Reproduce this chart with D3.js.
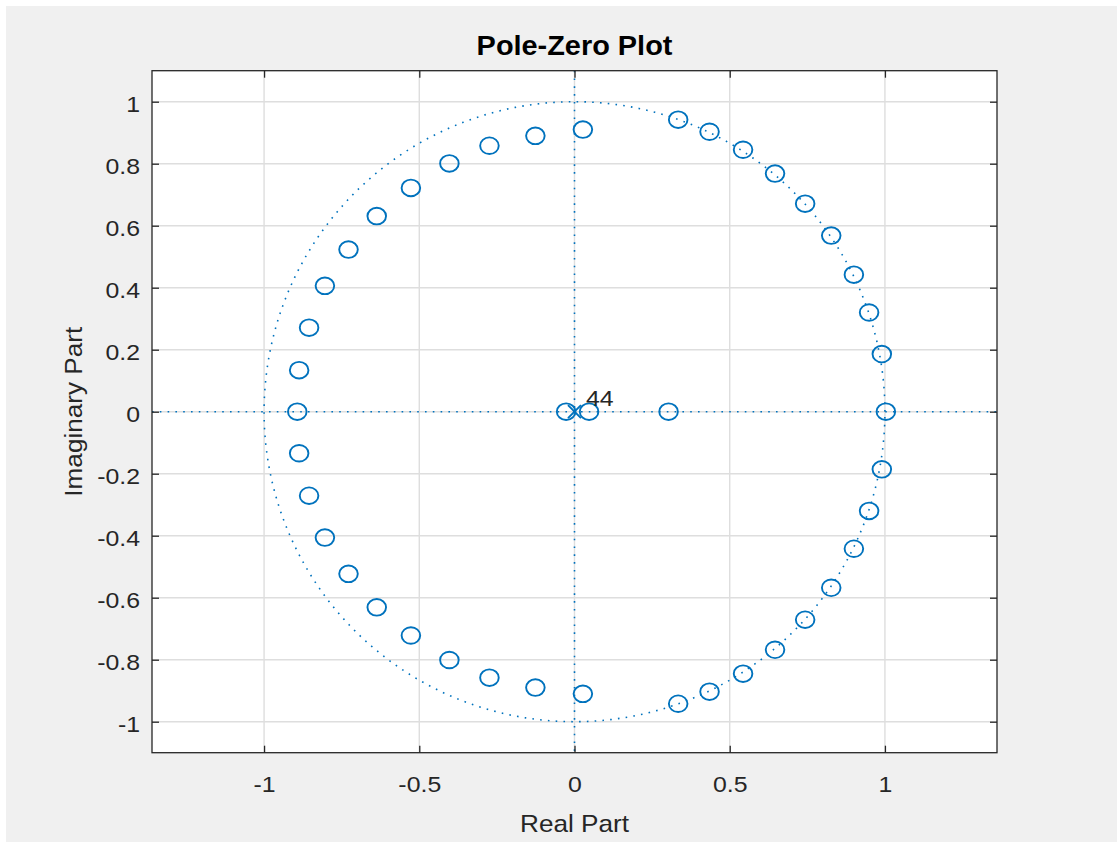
<!DOCTYPE html>
<html><head><meta charset="utf-8">
<script src="https://cdn.jsdelivr.net/npm/d3@7"></script>
<style>body{margin:0;background:#fff} svg{display:block}</style>
</head><body><svg id="c" width="1117" height="842"></svg>
<script>
// ---- data ----
const zerosRe = [
  0.027, -0.126, -0.274, -0.403, -0.527, -0.637, -0.728, -0.804, -0.855, -0.887,
  0.334, 0.435, 0.543, 0.646, 0.743, 0.827, 0.900, 0.949, 0.990,
  0.027, -0.126, -0.274, -0.403, -0.527, -0.637, -0.728, -0.804, -0.855, -0.887,
  0.334, 0.435, 0.543, 0.646, 0.743, 0.827, 0.900, 0.949, 0.990,
  -0.893, -0.027, 0.047, 0.303, 1.003
];
const zerosIm = [
  0.910, 0.890, 0.858, 0.801, 0.722, 0.631, 0.523, 0.406, 0.271, 0.134,
  0.942, 0.903, 0.845, 0.768, 0.671, 0.568, 0.442, 0.320, 0.186,
  -0.910, -0.890, -0.858, -0.801, -0.722, -0.631, -0.523, -0.406, -0.271, -0.134,
  -0.942, -0.903, -0.845, -0.768, -0.671, -0.568, -0.442, -0.320, -0.186,
  0, 0, 0, 0, 0
];
const polesRe = [0];
const polesIm = [0];
const poleLabels = ["44"];
const xTickValues = [-1, -0.5, 0, 0.5, 1];
const xTickLabels = ["-1", "-0.5", "0", "0.5", "1"];
const yTickValues = [-1, -0.8, -0.6, -0.4, -0.2, 0, 0.2, 0.4, 0.6, 0.8, 1];
const yTickLabels = ["-1", "-0.8", "-0.6", "-0.4", "-0.2", "0", "0.2", "0.4", "0.6", "0.8", "1"];
const xDomain = [-1.361, 1.361];
const yDomain = [-1.1, 1.1];
const titleText = "Pole-Zero Plot";
const xLabelText = "Real Part";
const yLabelText = "Imaginary Part";

// ---- layout ----
const W = 1117, H = 842;
const L = 152, R = 997, T = 70.7, B = 752.7;
const blue = "#0072BD", axisCol = "#262626";
const FONT = "'Liberation Sans', Arial, Helvetica, sans-serif";
const SX = 1.13;

const svg = d3.select("#c");
svg.append("rect").attr("x", 6).attr("y", 6).attr("width", W - 6).attr("height", H - 6).attr("fill", "#f0f0f0");
svg.append("rect").attr("x", L).attr("y", T).attr("width", R - L).attr("height", B - T).attr("fill", "#fff");

const x = d3.scaleLinear().domain(xDomain).range([L, R]);
const y = d3.scaleLinear().domain(yDomain).range([B, T]);

svg.append("defs").append("clipPath").attr("id", "clip")
  .append("rect").attr("x", L).attr("y", T).attr("width", R - L).attr("height", B - T);

// grid
const grid = svg.append("g").attr("stroke", "#dedede").attr("stroke-width", 1.4);
grid.selectAll("line.vx").data(xTickValues).join("line")
  .attr("x1", d => x(d)).attr("x2", d => x(d)).attr("y1", T).attr("y2", B);
grid.selectAll("line.hy").data(yTickValues).join("line")
  .attr("y1", d => y(d)).attr("y2", d => y(d)).attr("x1", L).attr("x2", R);

const plot = svg.append("g").attr("clip-path", "url(#clip)");
const dots = { fill: "none", stroke: blue, "stroke-width": 1.6, "stroke-dasharray": "1.6 6.2" };
function sty(sel, o) { for (const k in o) sel.attr(k, o[k]); return sel; }
// unit circle
const circ = d3.range(0, 361, 1).map(a => [Math.cos(a * Math.PI / 180), Math.sin(a * Math.PI / 180)]);
sty(plot.append("path").attr("d", d3.line().x(d => x(d[0])).y(d => y(d[1]))(circ)), dots);
// real / imaginary axes
sty(plot.append("line").attr("x1", x(xDomain[0])).attr("x2", x(xDomain[1])).attr("y1", y(0)).attr("y2", y(0)), dots);
sty(plot.append("line").attr("x1", x(0)).attr("x2", x(0)).attr("y1", y(yDomain[1])).attr("y2", y(yDomain[0])), dots);

// zeros
plot.selectAll("ellipse.z").data(zerosRe.map((r, i) => [r, zerosIm[i]])).join("ellipse")
  .attr("cx", d => x(d[0])).attr("cy", d => y(d[1])).attr("rx", 9.3).attr("ry", 8.3)
  .attr("fill", "none").attr("stroke", blue).attr("stroke-width", 1.9);
// poles
const pd = polesRe.map((r, i) => [r, polesIm[i]]);
const pg = plot.selectAll("g.p").data(pd).join("g")
  .attr("transform", d => `translate(${x(d[0])},${y(d[1])})`)
  .attr("stroke", blue).attr("stroke-width", 1.9);
pg.append("line").attr("x1", -6.5).attr("y1", -6.5).attr("x2", 6.5).attr("y2", 6.5);
pg.append("line").attr("x1", -6.5).attr("y1", 6.5).attr("x2", 6.5).attr("y2", -6.5);
svg.selectAll("text.pl").data(pd).join("text")
  .attr("transform", (d, i) => `translate(${x(d[0]) + 11.5},${y(d[1]) - 6}) scale(${SX},1)`)
  .attr("font-family", FONT).attr("font-size", 22).attr("fill", axisCol)
  .text((d, i) => poleLabels[i]);

// axes (ticks inside, MATLAB style)
function styleAxis(g) {
  g.select(".domain").remove();
  g.selectAll(".tick line").attr("stroke", axisCol).attr("stroke-width", 1.3);
  g.selectAll("text").attr("font-family", FONT).attr("font-size", 22).attr("fill", axisCol);
}
const gx = svg.append("g").attr("transform", `translate(0,${B})`)
  .call(d3.axisBottom(x).tickValues(xTickValues).tickFormat((d, i) => xTickLabels[i]).tickSize(-7).tickPadding(24));
styleAxis(gx);
gx.selectAll("text").attr("transform", `scale(${SX},1)`);
const gy = svg.append("g").attr("transform", `translate(${L},0)`)
  .call(d3.axisLeft(y).tickValues(yTickValues).tickFormat((d, i) => yTickLabels[i]).tickSize(-7).tickPadding(12));
styleAxis(gy);
gy.selectAll("text").attr("x", -12 / SX).attr("y", 3).attr("transform", `scale(${SX},1)`);
const gt = svg.append("g").attr("transform", `translate(0,${T})`)
  .call(d3.axisTop(x).tickValues(xTickValues).tickFormat("").tickSize(-7));
styleAxis(gt);
const gr = svg.append("g").attr("transform", `translate(${R},0)`)
  .call(d3.axisRight(y).tickValues(yTickValues).tickFormat("").tickSize(-7));
styleAxis(gr);

svg.append("rect").attr("x", L).attr("y", T).attr("width", R - L).attr("height", B - T)
  .attr("fill", "none").attr("stroke", axisCol).attr("stroke-width", 1.3);

// labels
svg.append("text").attr("transform", `translate(${(L + R) / 2},55) scale(1.07,1)`)
  .attr("text-anchor", "middle").attr("font-family", FONT).attr("font-size", 27).attr("font-weight", "bold")
  .attr("fill", "#000").text(titleText);
svg.append("text").attr("transform", `translate(${(L + R) / 2},832) scale(1.09,1)`)
  .attr("text-anchor", "middle").attr("font-family", FONT).attr("font-size", 24)
  .attr("fill", axisCol).text(xLabelText);
svg.append("text").attr("transform", `translate(82,${(T + B) / 2}) rotate(-90) scale(1.09,1)`)
  .attr("text-anchor", "middle").attr("font-family", FONT).attr("font-size", 24)
  .attr("fill", axisCol).text(yLabelText);
</script></body></html>
